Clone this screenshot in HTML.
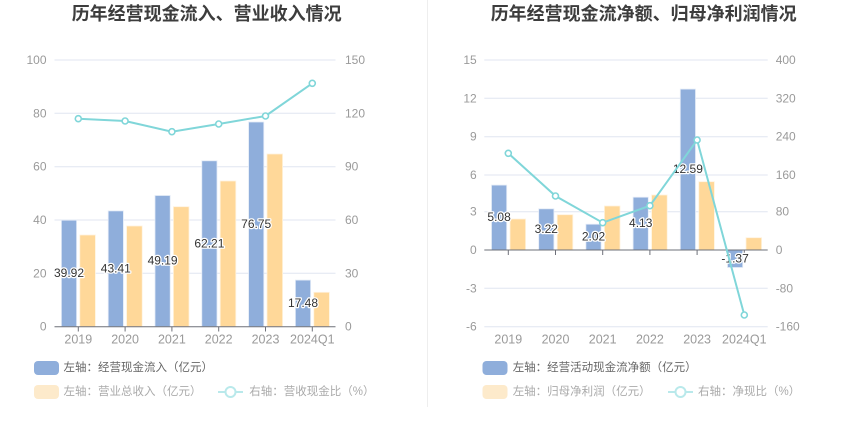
<!DOCTYPE html>
<html><head><meta charset="utf-8"><style>
html,body{margin:0;padding:0;background:#fff;width:850px;height:437px;overflow:hidden}
svg{display:block}
text{font-family:"Liberation Sans","Noto Sans CJK SC",sans-serif}
.t{font-size:18px;font-weight:bold;fill:#3d3d3d;text-anchor:middle}
.ax{font-size:12px;fill:#9a9a9a}
.xl{font-size:12.5px;fill:#9a9a9a;text-anchor:middle}
.lab{font-size:12px;fill:#333;text-anchor:middle;stroke:#fff;stroke-width:2.5px;paint-order:stroke;stroke-linejoin:round}
.lg{font-size:11.5px;fill:#666}
.lg2{font-size:11.5px;fill:#aaa}
.g{stroke:#e0e6f1;stroke-width:1}
.b{fill:#8faedb;stroke:#e3ebf7;stroke-width:0.8}
.o{fill:#ffd899;stroke:#fff3de;stroke-width:0.8}
</style></head><body>
<svg width="850" height="437" viewBox="0 0 850 437" xmlns="http://www.w3.org/2000/svg">
<line x1="427.5" y1="0" x2="427.5" y2="407" stroke="#eeeeee" stroke-width="1"/>

<!-- LEFT CHART -->
<text class="t" x="206.7" y="20">历年经营现金流入、营业收入情况</text>
<g>
<line class="g" x1="54.5" y1="60" x2="335.5" y2="60"/>
<line class="g" x1="54.5" y1="113.3" x2="335.5" y2="113.3"/>
<line class="g" x1="54.5" y1="166.7" x2="335.5" y2="166.7"/>
<line class="g" x1="54.5" y1="220" x2="335.5" y2="220"/>
<line class="g" x1="54.5" y1="273.3" x2="335.5" y2="273.3"/>
</g>
<g class="ax" text-anchor="end" dominant-baseline="central">
<text x="46.5" y="60">100</text><text x="46.5" y="113.3">80</text><text x="46.5" y="166.7">60</text>
<text x="46.5" y="220">40</text><text x="46.5" y="273.3">20</text><text x="46.5" y="326.7">0</text>
</g>
<g class="ax" text-anchor="start" dominant-baseline="central">
<text x="345" y="60">150</text><text x="345" y="113.3">120</text><text x="345" y="166.7">90</text>
<text x="345" y="220">60</text><text x="345" y="273.3">30</text><text x="345" y="326.7">0</text>
</g>
<!-- bars -->
<rect class="b" x="61.4" y="220.2" width="15.2" height="106.5"/>
<rect class="o" x="79.8" y="235" width="15.6" height="91.7"/>
<rect class="b" x="108.2" y="210.9" width="15.2" height="115.8"/>
<rect class="o" x="126.6" y="226" width="15.6" height="100.7"/>
<rect class="b" x="155" y="195.5" width="15.2" height="131.2"/>
<rect class="o" x="173.4" y="206.7" width="15.6" height="120"/>
<rect class="b" x="201.8" y="160.8" width="15.2" height="165.9"/>
<rect class="o" x="220.2" y="181" width="15.6" height="145.7"/>
<rect class="b" x="248.6" y="122" width="15.2" height="204.7"/>
<rect class="o" x="267" y="154" width="15.6" height="172.7"/>
<rect class="b" x="295.4" y="280.1" width="15.2" height="46.6"/>
<rect class="o" x="313.8" y="292.3" width="15.6" height="34.4"/>
<!-- axis -->
<line x1="54.5" y1="326.7" x2="335.5" y2="326.7" stroke="#6e7079" stroke-width="1"/>
<g stroke="#6e7079" stroke-width="1">
<line x1="78.3" y1="326.7" x2="78.3" y2="331.5"/><line x1="125.1" y1="326.7" x2="125.1" y2="331.5"/>
<line x1="171.9" y1="326.7" x2="171.9" y2="331.5"/><line x1="218.7" y1="326.7" x2="218.7" y2="331.5"/>
<line x1="265.5" y1="326.7" x2="265.5" y2="331.5"/><line x1="312.3" y1="326.7" x2="312.3" y2="331.5"/>
</g>
<g class="xl" dominant-baseline="central">
<text x="78.3" y="339.5">2019</text><text x="125.1" y="339.5">2020</text><text x="171.9" y="339.5">2021</text>
<text x="218.7" y="339.5">2022</text><text x="265.5" y="339.5">2023</text><text x="312.3" y="339.5">2024Q1</text>
</g>
<!-- labels -->
<g class="lab" dominant-baseline="central">
<text x="69" y="273">39.92</text><text x="115.8" y="268.3">43.41</text><text x="162.6" y="260.6">49.19</text>
<text x="209.4" y="243.3">62.21</text><text x="256.2" y="224">76.75</text><text x="303" y="303">17.48</text>
</g>
<!-- line -->
<polyline points="78.3,118.7 125.1,121 171.9,131.7 218.7,124 265.5,116 312.3,83.3" fill="none" stroke="#80d6d9" stroke-width="2"/>
<g fill="#fff" stroke="#80d6d9" stroke-width="1.6">
<circle cx="78.3" cy="118.7" r="3"/><circle cx="125.1" cy="121" r="3"/><circle cx="171.9" cy="131.7" r="3"/>
<circle cx="218.7" cy="124" r="3"/><circle cx="265.5" cy="116" r="3"/><circle cx="312.3" cy="83.3" r="3"/>
</g>
<!-- legend -->
<rect x="34" y="361" width="25" height="14" rx="4" fill="#8faedb"/>
<text class="lg" x="63.5" y="368" dominant-baseline="central">左轴：经营现金流入（亿元）</text>
<rect x="34" y="385" width="25" height="14" rx="4" fill="#fdeacb"/>
<text class="lg2" x="63.5" y="392" dominant-baseline="central">左轴：营业总收入（亿元）</text>
<line x1="218" y1="392" x2="243" y2="392" stroke="#b9e9eb" stroke-width="2"/>
<circle cx="230.5" cy="392" r="5" fill="#fff" stroke="#b9e9eb" stroke-width="2"/>
<text class="lg2" x="249.3" y="392" dominant-baseline="central">右轴：营收现金比（%）</text>

<!-- RIGHT CHART -->
<text class="t" x="643.7" y="20">历年经营现金流净额、归母净利润情况</text>
<g>
<line class="g" x1="484.3" y1="60" x2="767.7" y2="60"/>
<line class="g" x1="484.3" y1="98.3" x2="767.7" y2="98.3"/>
<line class="g" x1="484.3" y1="136.7" x2="767.7" y2="136.7"/>
<line class="g" x1="484.3" y1="175" x2="767.7" y2="175"/>
<line class="g" x1="484.3" y1="211.7" x2="767.7" y2="211.7"/>
<line class="g" x1="484.3" y1="288.3" x2="767.7" y2="288.3"/>
<line class="g" x1="484.3" y1="326.7" x2="767.7" y2="326.7"/>
</g>
<g class="ax" text-anchor="end" dominant-baseline="central">
<text x="476.7" y="60">15</text><text x="476.7" y="98.3">12</text><text x="476.7" y="136.7">9</text>
<text x="476.7" y="175">6</text><text x="476.7" y="211.7">3</text><text x="476.7" y="250">0</text>
<text x="476.7" y="288.3">-3</text><text x="476.7" y="326.7">-6</text>
</g>
<g class="ax" text-anchor="start" dominant-baseline="central">
<text x="775.7" y="60">400</text><text x="775.7" y="98.3">320</text><text x="775.7" y="136.7">240</text>
<text x="775.7" y="175">160</text><text x="775.7" y="211.7">80</text><text x="775.7" y="250">0</text>
<text x="775.7" y="288.3">-80</text><text x="775.7" y="326.7">-160</text>
</g>
<!-- bars -->
<rect class="b" x="491.5" y="185.1" width="15.2" height="64.9"/>
<rect class="o" x="510" y="219" width="15.6" height="31"/>
<rect class="b" x="538.7" y="208.8" width="15.2" height="41.2"/>
<rect class="o" x="557.2" y="214.7" width="15.6" height="35.3"/>
<rect class="b" x="585.9" y="224.2" width="15.2" height="25.8"/>
<rect class="o" x="604.4" y="206" width="15.6" height="44"/>
<rect class="b" x="633.1" y="197.2" width="15.2" height="52.8"/>
<rect class="o" x="651.6" y="195" width="15.6" height="55"/>
<rect class="b" x="680.3" y="89.1" width="15.2" height="160.9"/>
<rect class="o" x="698.8" y="181.7" width="15.6" height="68.3"/>
<rect class="b" x="727.5" y="250" width="15.2" height="17.5"/>
<rect class="o" x="746" y="237.7" width="15.6" height="12.3"/>
<line x1="484.3" y1="250" x2="767.7" y2="250" stroke="#6e7079" stroke-width="1"/>
<g stroke="#6e7079" stroke-width="1">
<line x1="508.3" y1="250" x2="508.3" y2="255"/><line x1="555.5" y1="250" x2="555.5" y2="255"/>
<line x1="602.7" y1="250" x2="602.7" y2="255"/><line x1="649.9" y1="250" x2="649.9" y2="255"/>
<line x1="697.1" y1="250" x2="697.1" y2="255"/><line x1="744.3" y1="250" x2="744.3" y2="255"/>
</g>
<g class="xl" dominant-baseline="central">
<text x="508.3" y="339.5">2019</text><text x="555.5" y="339.5">2020</text><text x="602.7" y="339.5">2021</text>
<text x="649.9" y="339.5">2022</text><text x="697.1" y="339.5">2023</text><text x="744.3" y="339.5">2024Q1</text>
</g>
<g class="lab" dominant-baseline="central">
<text x="499.1" y="217">5.08</text><text x="546.3" y="228.9">3.22</text><text x="593.5" y="236.6">2.02</text>
<text x="640.7" y="223.1">4.13</text><text x="687.9" y="169">12.59</text><text x="735.1" y="258.3">-1.37</text>
</g>
<polyline points="508.3,153.3 555.5,196 602.7,222.7 649.9,205.7 697.1,140 744.3,315" fill="none" stroke="#80d6d9" stroke-width="2"/>
<g fill="#fff" stroke="#80d6d9" stroke-width="1.6">
<circle cx="508.3" cy="153.3" r="3"/><circle cx="555.5" cy="196" r="3"/><circle cx="602.7" cy="222.7" r="3"/>
<circle cx="649.9" cy="205.7" r="3"/><circle cx="697.1" cy="140" r="3"/><circle cx="744.3" cy="315" r="3"/>
</g>
<rect x="482.5" y="361" width="25" height="14" rx="4" fill="#8faedb"/>
<text class="lg" x="512.7" y="368" dominant-baseline="central">左轴：经营活动现金流净额（亿元）</text>
<rect x="482.5" y="385" width="25" height="14" rx="4" fill="#fdeacb"/>
<text class="lg2" x="512.7" y="392" dominant-baseline="central">左轴：归母净利润（亿元）</text>
<line x1="668" y1="392" x2="693" y2="392" stroke="#b9e9eb" stroke-width="2"/>
<circle cx="680.5" cy="392" r="5" fill="#fff" stroke="#b9e9eb" stroke-width="2"/>
<text class="lg2" x="698" y="392" dominant-baseline="central">右轴：净现比（%）</text>
</svg>
</body></html>
